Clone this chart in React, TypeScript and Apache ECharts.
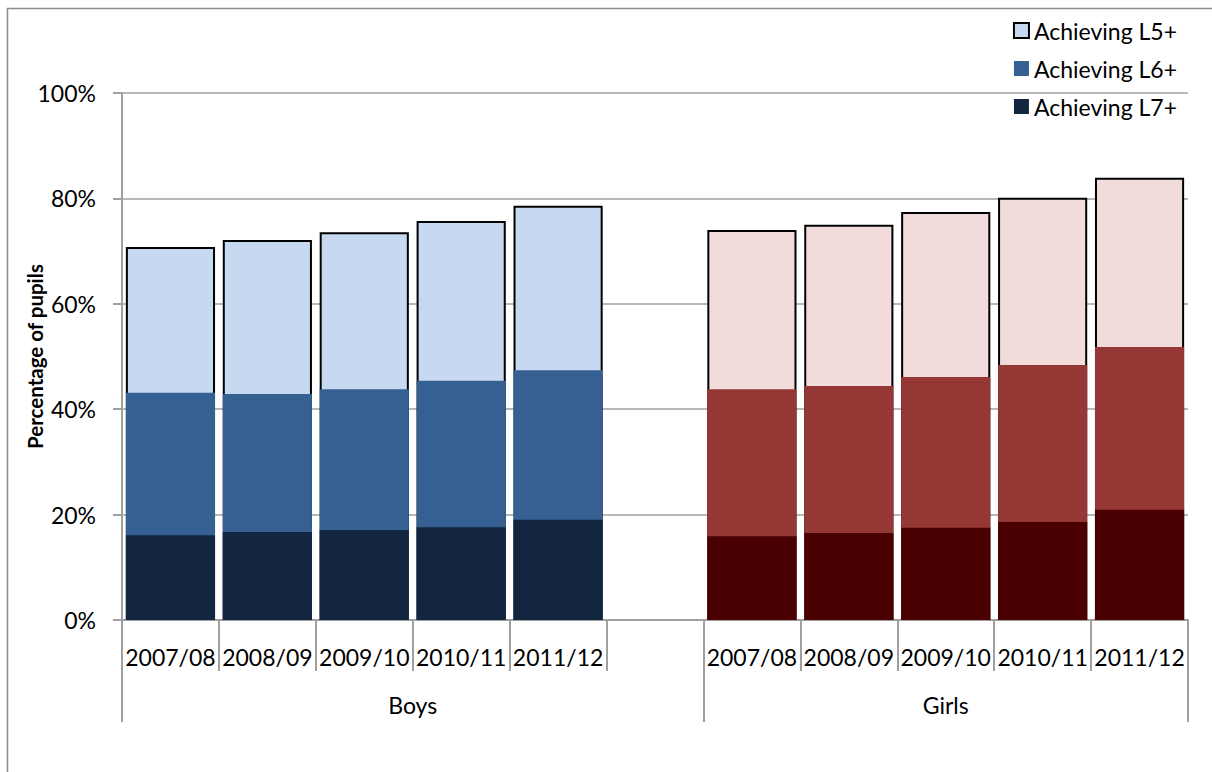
import React, { useEffect, useRef } from "react";
import * as echarts from "echarts";

const categories = ["2007/08", "2008/09", "2009/10", "2010/11", "2011/12", "", "2007/08", "2008/09", "2009/10", "2010/11", "2011/12"];
const groupLabels = ["Boys", "Girls"];
const groupLabelPositions = [3, 8.5];
const groupBoundaries = [0, 6, 11];
const yTicks = [0, 20, 40, 60, 80, 100];

// cumulative percentages (boys first five, gap, girls five)
const achievingL5 = [70.8, 72.1, 73.6, 75.7, 78.6, null, 74.0, 75.0, 77.4, 80.1, 83.9];
const achievingL6 = [43.1, 42.9, 43.8, 45.4, 47.4, null, 43.8, 44.4, 46.1, 48.4, 51.8];
const achievingL7 = [16.1, 16.7, 17.1, 17.6, 19.0, null, 15.9, 16.5, 17.5, 18.6, 20.9];

const boysColors = { l5: "#C6D9F1", l6: "#376092", l7: "#12263F" };
const girlsColors = { l5: "#F2DCDB", l6: "#953735", l7: "#4A0000" };

const FONT = "Lato";
const FS = 23;

function toData(values: (number | null)[], boy: string, girl: string) {
  return values.map((v, i) =>
    v == null ? "-" : { value: v, itemStyle: { color: i < 5 ? boy : girl } }
  );
}

export default function App() {
  const ref = useRef<HTMLDivElement>(null);
  useEffect(() => {
    if (!ref.current) return;
    const chart = echarts.init(ref.current, null, { renderer: "svg" });
    const gray = "#A0A0A0";
    chart.setOption({
      animation: false,
      backgroundColor: "#fff",
      textStyle: { fontFamily: FONT },
      graphic: [
        {
          type: "rect",
          shape: { x: 7.5, y: 8.5, width: 1230, height: 800 },
          style: { fill: "none", stroke: "#8C8C8C", lineWidth: 1.5 },
          silent: true,
          z: -1,
        },
      ],
      legend: {
        orient: "vertical",
        right: 30,
        top: 14,
        itemWidth: 15,
        itemHeight: 15,
        itemGap: 15,
        icon: "rect",
        textStyle: { fontFamily: FONT, fontSize: FS, color: "#000" },
        data: ["Achieving L5+", "Achieving L6+", "Achieving L7+"],
      },
      grid: { left: 122, right: 24, top: 93, bottom: 152, containLabel: false },
      xAxis: [
        {
          type: "category",
          data: categories,
          axisLine: { show: true, lineStyle: { color: gray, width: 2 } },
          axisTick: { show: true, length: 51, lineStyle: { color: gray, width: 2 } },
          axisLabel: { color: "#000", fontFamily: FONT, fontSize: FS, margin: 25, interval: 0 },
          splitLine: { show: false },
        },
        {
          type: "value",
          min: 0,
          max: 11,
          position: "bottom",
          axisLine: { show: false },
          splitLine: { show: false },
          axisTick: { show: true, length: 102, customValues: groupBoundaries, lineStyle: { color: gray, width: 2 } },
          axisLabel: {
            show: true,
            customValues: groupLabelPositions,
            formatter: (v: number) => groupLabels[groupLabelPositions.indexOf(v)] ?? "",
            color: "#000",
            fontFamily: FONT,
            fontSize: FS,
            margin: 73,
          },
        },
      ],
      yAxis: {
        type: "value",
        min: 0,
        max: 100,
        interval: 20,
        name: "Percentage of pupils",
        nameLocation: "middle",
        nameGap: 77,
        nameMoveOverlap: false,
        nameTextStyle: { fontFamily: FONT, fontSize: 20.5, fontWeight: "bold", color: "#000" },
        axisLine: { show: true, lineStyle: { color: gray, width: 2 } },
        axisTick: { show: true, length: 9, lineStyle: { color: gray, width: 2 } },
        axisLabel: {
          color: "#000",
          fontFamily: FONT,
          fontSize: FS,
          margin: 26,
          formatter: (v: number) => (yTicks.includes(v) ? v + "%" : ""),
        },
        splitLine: { show: true, lineStyle: { color: gray, width: 1.5 } },
      },
      series: [
        {
          name: "Achieving L5+",
          type: "bar",
          barGap: "-100%",
          barCategoryGap: "8%",
          itemStyle: { color: boysColors.l5, borderColor: "#000", borderWidth: 2 },
          data: toData(achievingL5, boysColors.l5, girlsColors.l5),
        },
        {
          name: "Achieving L6+",
          type: "bar",
          barGap: "-100%",
          barCategoryGap: "8%",
          itemStyle: { color: boysColors.l6 },
          data: toData(achievingL6, boysColors.l6, girlsColors.l6),
        },
        {
          name: "Achieving L7+",
          type: "bar",
          barGap: "-100%",
          barCategoryGap: "8%",
          itemStyle: { color: boysColors.l7 },
          data: toData(achievingL7, boysColors.l7, girlsColors.l7),
        },
      ],
    });
    return () => chart.dispose();
  }, []);
  return (
    <div
      ref={ref}
      style={{ position: "absolute", left: 0, top: 0, width: 1212, height: 772 }}
    />
  );
}
